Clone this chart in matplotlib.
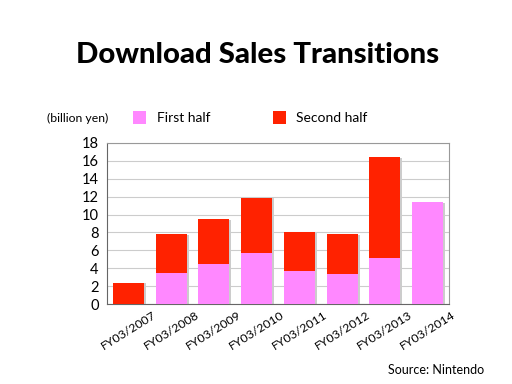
import matplotlib.pyplot as plt
import numpy as np
from matplotlib.patches import Rectangle

categories = ["FY03/2007", "FY03/2008", "FY03/2009", "FY03/2010",
              "FY03/2011", "FY03/2012", "FY03/2013", "FY03/2014"]
first_half = [0.0, 3.5, 4.5, 5.7, 3.7, 3.4, 5.1, 11.4]
second_half = [2.4, 4.3, 5.0, 6.2, 4.3, 4.4, 11.3, 0.0]
yticks = [0, 2, 4, 6, 8, 10, 12, 14, 16, 18]

pink = "#FF88FF"
red = "#FF2200"
font = "Lato"

fig = plt.figure(figsize=(5.12, 3.84), dpi=100)
ax = fig.add_axes([107/512, 1-304/384, (449-107)/512, (304-143)/384])

x = np.arange(len(categories))
w = 0.72
# subtle shadows
for xi, f, s in zip(x, first_half, second_half):
    tot = f + s
    ax.add_patch(Rectangle((xi - w/2 + 0.05, 0), w, tot - 0.08, facecolor="#cccccc",
                           edgecolor="none", zorder=2))
ax.bar(x, first_half, w, color=pink, zorder=3)
ax.bar(x, second_half, w, bottom=first_half, color=red, zorder=3)

ax.set_xlim(-0.5, len(categories) - 0.5)
ax.set_ylim(0, 18)
ax.set_yticks(yticks)
ax.yaxis.grid(True, color="#cccccc", linewidth=0.8, zorder=0)
ax.set_axisbelow(True)
ax.tick_params(axis="both", length=0, labelsize=10.5)
ax.tick_params(axis="y", pad=6)
for lab in ax.get_yticklabels():
    lab.set_fontfamily(font)
ax.set_xticks(x)
ax.set_xticklabels(categories, rotation=32, ha="center", va="center", rotation_mode="anchor",
                   fontsize=8.8, fontfamily=font)
ax.tick_params(axis="x", pad=19)
for sp in ["top", "right"]:
    ax.spines[sp].set_color("#999999")
for sp in ["left", "bottom"]:
    ax.spines[sp].set_color("#666666")

fig.text(0.5 + 1.5/512, 1-55/384, "Download Sales Transitions", ha="center", va="center",
         fontsize=21.2, fontweight="black", fontfamily=font)
fig.text(47/512, 1-118/384, "(billion yen)", ha="left", va="center", fontsize=8.8, fontfamily=font)
fig.patches.append(Rectangle((133/512, 1-124/384), 13/512, 13/384, facecolor=pink,
                             edgecolor="none", transform=fig.transFigure))
fig.text(157/512, 1-118/384, "First half", ha="left", va="center", fontsize=10, fontfamily=font)
fig.patches.append(Rectangle((273/512, 1-124/384), 13/512, 13/384, facecolor=red,
                             edgecolor="none", transform=fig.transFigure))
fig.text(296/512, 1-118/384, "Second half", ha="left", va="center", fontsize=10, fontfamily=font)
fig.text(484/512, 1-370/384, "Source: Nintendo", ha="right", va="center", fontsize=9, fontfamily=font)

fig.savefig("out.png", dpi=100)
